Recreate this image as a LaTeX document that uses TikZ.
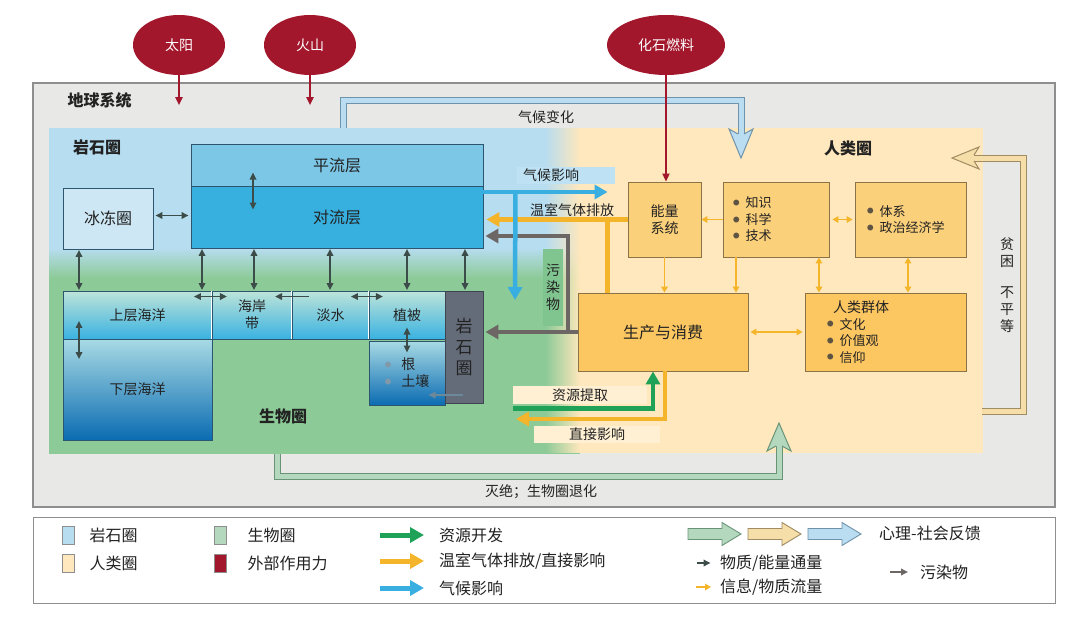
\documentclass[tikz,border=0pt]{standalone}
\usepackage{fontspec}
\setmainfont{Noto Sans CJK SC}
\usetikzlibrary{arrows.meta, shapes.geometric, positioning, fadings}

\definecolor{sysbg}    {HTML}{E8E8E6}
\definecolor{sysline}  {HTML}{8E8E8E}
\definecolor{atmoblue} {HTML}{B7DDF0}
\definecolor{biogreen} {HTML}{8CCA97}
\definecolor{humanyel} {HTML}{FFE8BD}
\definecolor{stratfill}{HTML}{7CC6E6}
\definecolor{tropofill}{HTML}{37B0DF}
\definecolor{cryofill} {HTML}{CDE7F4}
\definecolor{atmoline} {HTML}{2D5570}
\definecolor{seatop}   {HTML}{BDE4D9}
\definecolor{seabot}   {HTML}{3AB2E1}
\definecolor{deeptop}  {HTML}{A8DAE4}
\definecolor{deepbot}  {HTML}{0B6CB2}
\definecolor{rockfill} {HTML}{646C79}
\definecolor{rockline} {HTML}{3E4550}
\definecolor{hfill}    {HTML}{FBD07B}
\definecolor{hfill2}   {HTML}{FCC661}
\definecolor{hline}    {HTML}{8A7346}
\definecolor{fluxcol}  {HTML}{3C4C49}
\definecolor{infocol}  {HTML}{F4B52A}
\definecolor{climcol}  {HTML}{39AEE0}
\definecolor{rescol}   {HTML}{1FA257}
\definecolor{pollcol}  {HTML}{6C6664}
\definecolor{forcered} {HTML}{A3172D}
\definecolor{tagfill}  {HTML}{FFF0D4}
\definecolor{climtag}  {HTML}{BEE2F3}
\definecolor{pollgreen}{HTML}{80C48F}
\definecolor{ccline}   {HTML}{6F93AB}
\definecolor{ccfill}   {HTML}{BADDF1}
\definecolor{pvline}   {HTML}{A08B62}
\definecolor{pvfill}   {HTML}{F6DEA9}
\definecolor{exline}   {HTML}{6A9478}
\definecolor{exfill}   {HTML}{B3D8BE}
\definecolor{dotcol}   {HTML}{5E5444}
\definecolor{txt}      {HTML}{222222}

\newcommand{\dotb}[1][dotcol]{\textcolor{#1}{\raisebox{2.4pt}{\fontsize{6.5}{6.5}\selectfont ●}}\hspace{6pt}}

\tikzfading[name=fadeleft, left color=transparent!100, right color=transparent!0]

\tikzset{
  fbig/.style     = {font=\fontsize{16}{19}\selectfont},
  fmid/.style     = {font=\fontsize{14}{17}\selectfont},
  fsml/.style     = {font=\fontsize{13}{16.5}\selectfont},
  zone/.style     = {font=\fontsize{16}{19}\selectfont\bfseries, text=txt},
  force/.style    = {ellipse, fill=forcered, text=white, minimum height=60pt,
                     inner sep=0pt, fmid},
  forcearr/.style = {forcered, line width=1.8pt, -{Triangle[length=8pt,width=7pt]}},
  atmo/.style     = {draw=atmoline, line width=0.9pt, minimum width=292pt,
                     fbig, text=txt},
  sea/.style      = {draw=atmoline, line width=0.9pt, top color=seatop,
                     bottom color=seabot, fmid, text=txt, minimum height=48pt,
                     inner sep=0pt},
  deep/.style     = {top color=deeptop, bottom color=deepbot},
  rockbox/.style  = {draw=rockline, line width=0.9pt, fill=rockfill, text=txt,
                     minimum width=38pt, minimum height=112pt, inner sep=0pt,
                     align=center, font=\fontsize{17}{21}\selectfont},
  hbox/.style     = {draw=hline, line width=0.8pt, fill=hfill, text=txt, fsml,
                     minimum height=75pt, inner xsep=10pt},
  tag/.style      = {fmid, text=txt, inner sep=0pt, minimum height=18pt},
  flux/.style     = {fluxcol, line width=1.6pt, shorten <=0.5pt, shorten >=0.5pt,
                     >={Triangle[length=7pt,width=6.5pt]}},
  info/.style     = {infocol, line width=1.8pt, >={Triangle[length=6pt,width=6.5pt]}},
  heavy/.style    = {line width=4.5pt, -{Triangle[length=13pt,width=14pt]}},
  climarr/.style  = {heavy, climcol},
  ghgarr/.style   = {heavy, infocol},
  pollarr/.style  = {heavy, pollcol, line width=4pt},
  resarr/.style   = {heavy, rescol},
  ghgline/.style  = {infocol, line width=4.5pt},
  fbk/.style      = {line width=1pt, double distance=5pt, line join=miter},
  fbkhead/.style  = {line width=1pt, line join=miter},
  swatch/.style   = {draw=sysline, line width=0.6pt, minimum width=12pt,
                     minimum height=18pt, inner sep=0pt},
  legtxt/.style   = {fbig, text=txt, inner sep=2pt},
  legarr/.style   = {line width=5pt, -{Triangle[length=14pt,width=15pt]}},
}

\begin{document}
\begin{tikzpicture}[x=1pt, y=-1pt]

  \useasboundingbox (0,0) rectangle (1080,618);
  \fill[white] (0,0) rectangle (1080,618);

  % earth system frame and the three spheres
  \draw[sysline, fill=sysbg, line width=1.2pt] (33,83) rectangle (1055,507);
  \fill[atmoblue] (49,128) rectangle (580,248);
  \fill[top color=atmoblue, bottom color=biogreen] (49,248) rectangle (580,278);
  \fill[biogreen] (49,278) rectangle (580,454);
  \fill[humanyel, path fading=fadeleft] (545,128) rectangle (580,453);
  \fill[humanyel] (580,128) rectangle (983,453);

  \node[zone, anchor=west] (earth) at (64,100) {地球系统};
  \node[zone] (lithlab) at (97,147) {岩石圈};
  \node[zone] (biolab) at (283,416) {生物圈};
  \node[zone] (humlab) at (848,148) {人类圈};

  % external forcing
  \node[force, minimum width=92pt] (sun) at (179,45) {太阳};
  \node[force, minimum width=92pt] (volc) at (310,45) {火山};
  \node[force, minimum width=118pt] (fossil) at (666,45) {化石燃料};

  % feedback loops
  \coordinate (ccstart) at (343,128);
  \coordinate (cctip) at (741,158);
  \draw[fbk, draw=ccline, double=ccfill] (ccstart) |- ([yshift=57pt]cctip)
    -- ([yshift=24pt]cctip);
  \filldraw[fbkhead, draw=ccline, fill=ccfill] ([shift={(-3pt,24pt)}]cctip)
    -- ([shift={(-12pt,29pt)}]cctip) -- (cctip) -- ([shift={(12pt,29pt)}]cctip)
    -- ([shift={(3pt,24pt)}]cctip);
  \node[fmid, text=txt] (cclab) at (546,117) {气候变化};

  \coordinate (pvstart) at (982,411);
  \coordinate (pvtip) at (952,158);
  \draw[fbk, draw=pvline, double=pvfill] (pvstart) -| ([xshift=71pt]pvtip)
    -- ([xshift=22pt]pvtip);
  \filldraw[fbkhead, draw=pvline, fill=pvfill] ([shift={(22pt,3pt)}]pvtip)
    -- ([shift={(27pt,11pt)}]pvtip) -- (pvtip) -- ([shift={(27pt,-11pt)}]pvtip)
    -- ([shift={(22pt,-3pt)}]pvtip);
  \node[fmid, text=txt, align=center] (pvlab) at (1007,285)
    {贫\\困\\[14pt]不\\平\\等};

  \coordinate (exstart) at (277,454);
  \coordinate (extip) at (779,423);
  \draw[fbk, draw=exline, double=exfill] (exstart) |- ([yshift=-53pt]extip)
    -- ([yshift=-23pt]extip);
  \filldraw[fbkhead, draw=exline, fill=exfill] ([shift={(-3pt,-23pt)}]extip)
    -- ([shift={(-12pt,-28pt)}]extip) -- (extip) -- ([shift={(12pt,-28pt)}]extip)
    -- ([shift={(3pt,-23pt)}]extip);
  \node[fmid, text=txt] (exlab) at (541,492) {灭绝；生物圈退化};

  % atmosphere and cryosphere
  \node[atmo, fill=stratfill, minimum height=42pt] (strat) at (337,165) {平流层};
  \node[atmo, fill=tropofill, minimum height=62pt] (tropo) at (337,217) {对流层};
  \node[atmo, fill=cryofill, minimum width=90pt, minimum height=61pt] (cryo)
    at (108,218.5) {冰冻圈};

  % oceans, land, lithosphere
  \node[sea, minimum width=149pt] (upocean) at (137.5,315) {上层海洋};
  \node[sea, minimum width=80pt, align=center] (coast) at (252,315) {海岸\\带};
  \node[sea, minimum width=77pt] (fresh) at (330.5,315) {淡水};
  \node[sea, minimum width=76pt] (veg) at (407,315) {植被};
  \node[sea, deep, minimum width=149pt, minimum height=101pt] (lowocean)
    at (137.5,389.5) {下层海洋};
  \node[sea, deep, minimum width=76pt, minimum height=64pt, align=left] (soil)
    at (407,373) {\dotb[atmoline!60]\hspace{4pt}根\\ \dotb[atmoline!60]\hspace{4pt}土壤};
  \node[rockbox] (rock) at (464,347) {岩\\石\\圈};
  \foreach \cell in {coast, fresh, veg}
    \draw[white, line width=0.8pt] ([yshift=-0.5pt]\cell.north west)
      -- ([yshift=0.5pt]\cell.south west);

  % material and energy fluxes
  \draw[flux, <->] ([shift={(-84pt,-7pt)}]strat.center)
    -- ([shift={(-84pt,7pt)}]tropo.center);
  \draw[flux, <->, shorten <=2pt, shorten >=2pt] ([yshift=3pt]cryo.east)
    -- ([yshift=3pt]cryo.east -| tropo.west);
  \draw[flux, <->] ([xshift=-29pt]cryo.south) -- ([xshift=-29pt]cryo.south |- upocean.north);
  \foreach \dx in {-135,-83,-7,70,128}
    \draw[flux, <->] ([xshift=\dx pt]tropo.south)
      -- ([xshift=\dx pt]tropo.south |- upocean.north);
  \draw[flux, <->] ([shift={(-19pt,-6pt)}]upocean.north east)
    -- ([shift={(15pt,-6pt)}]upocean.north east);
  \draw[flux, ->] ([shift={(18pt,-6pt)}]fresh.north west)
    -- ([shift={(-17pt,-6pt)}]fresh.north west);
  \draw[flux, <->] ([shift={(-19pt,-6pt)}]fresh.north east)
    -- ([shift={(14pt,-6pt)}]fresh.north east);
  \draw[flux, <->] ([shift={(-58.5pt,19pt)}]upocean.south)
    -- ([shift={(-58.5pt,-21pt)}]lowocean.north);
  \draw[flux, <->] ([yshift=-12pt]veg.center) -- ([yshift=20pt]soil.center);
  \draw[flux, ->, atmoline!70, line width=1.2pt] ([shift={(-1pt,-48pt)}]rock.center)
    -- ([shift={(21pt,-22pt)}]soil.center);

  % anthroposphere
  \node[hbox, minimum width=73pt, text width=53pt, align=center, fmid] (energy)
    at (664.5,219.5) {能量\\系统};
  \node[hbox, text width=86pt, align=left] (know) at (776,219.5)
    {\dotb 知识\\ \dotb 科学\\ \dotb 技术};
  \node[hbox, inner xsep=12pt, text width=87pt, align=left] (inst) at (910.5,219.5)
    {\dotb 体系\\ \dotb 政治经济学};
  \node[hbox, fill=hfill2, minimum width=170pt, minimum height=78pt, fbig] (prod)
    at (663,332) {生产与消费};
  \node[hbox, fill=hfill2, minimum height=78pt, inner xsep=22pt, text width=117pt,
        align=left] (group) at (885.5,332)
    {\hspace*{6pt}{\fontsize{14}{17}\selectfont 人类群体}\\
     \dotb 文化\\ \dotb 价值观\\ \dotb 信仰};

  \draw[forcearr] (sun.south) -- ([yshift=-30pt]sun.south);
  \draw[forcearr] (volc.south) -- ([yshift=-30pt]volc.south);
  \draw[forcearr] (fossil.south) -- (fossil.south |- energy.north);

  % information and material flows
  \draw[info, ->] (know.west) -- (energy.east);
  \draw[info, <->, shorten <=3pt, shorten >=2pt] (know.east) -- (inst.west);
  \draw[info, ->] (energy.south) -- (energy.south |- prod.north);
  \draw[info, ->] ([xshift=-40pt]know.south) -- ([xshift=-40pt]know.south |- prod.north);
  \draw[info, <->] ([xshift=43pt]know.south) -- ([xshift=43pt]know.south |- group.north);
  \draw[info, <->] ([xshift=-2.5pt]inst.south) -- ([xshift=-2.5pt]inst.south |- group.north);
  \draw[info, <->, shorten <=2pt, shorten >=2pt] (prod.east) -- (group.west);

  % greenhouse gases, pollution, climate impacts
  \node[fmid, text=txt] (ghglab) at (572,210) {温室气体排放};
  \draw[ghgline] ([xshift=30pt]prod.north west) -- ([xshift=30pt]prod.north west |- energy.west);
  \draw[ghgarr, shorten >=3pt] (energy.west) -- (energy.west -| tropo.east);

  \node[fmid, text=txt, fill=pollgreen, minimum width=20pt, minimum height=77pt,
        inner sep=0pt, align=center] (polllab) at (553,287) {污\\染\\物};
  \draw[pollarr, shorten >=2pt] (prod.west) -- (prod.west -| rock.east);
  \draw[pollarr, shorten >=2pt] ([xshift=-10pt]prod.west) |- ([yshift=-19pt]tropo.east);

  \node[fmid, text=txt, fill=climtag, anchor=west, minimum height=17pt, inner sep=0pt,
        inner xsep=6pt, text width=86pt, align=left] (climlab) at (517,175) {气候影响};
  \coordinate (climtip) at (515,300);
  \draw[climarr] ([yshift=25pt]tropo.east) -- ([shift={(-20pt,27.5pt)}]energy.west);
  \draw[climarr] ([shift={(32pt,25pt)}]tropo.east) -- (climtip);

  % resources and direct impacts
  \node[tag, fill=tagfill, minimum width=134pt] (reslab) at (580,395) {资源提取};
  \node[tag, fill=tagfill, minimum width=126pt, minimum height=17pt] (dirlab)
    at (597,434.5) {直接影响};
  \coordinate (dirtip) at (516,419);
  \draw[resarr] ([yshift=-4.5pt]reslab.south west) -| ([xshift=-10pt]prod.south);
  \draw[ghgarr] ([xshift=2pt]prod.south) |- (dirtip);

  % legend
  \draw[sysline, fill=white, line width=1pt] (33,517) rectangle (1055,603);
  \node[swatch, fill=atmoblue] (swa) at (68,535) {};
  \node[legtxt, right=13pt of swa] (lswa) {岩石圈};
  \node[swatch, fill=humanyel] (swh) at (68,563) {};
  \node[legtxt, right=13pt of swh] (lswh) {人类圈};
  \node[swatch, fill=exfill] (swb) at (220,535) {};
  \node[legtxt, right=19pt of swb] (lswb) {生物圈};
  \node[swatch, fill=forcered] (swf) at (220,563) {};
  \node[legtxt, right=19pt of swf] (lswf) {外部作用力};

  \node[legtxt, anchor=west] (lres) at (437,535) {资源开发};
  \node[legtxt, anchor=west] (lghg) at (437,561) {温室气体排放/直接影响};
  \node[legtxt, anchor=west] (lclim) at (437,588) {气候影响};
  \draw[rescol, legarr] ([xshift=-57pt]lres.west) -- ([xshift=-13pt]lres.west);
  \draw[infocol, legarr] ([xshift=-57pt]lghg.west) -- ([xshift=-13pt]lghg.west);
  \draw[climcol, legarr] ([xshift=-57pt]lclim.west) -- ([xshift=-13pt]lclim.west);

  \node[legtxt, anchor=west] (lfb) at (877,533) {心理-社会反馈};
  \coordinate (lfbpos) at (688,534);
  \foreach \ln/\fl [count=\i from 0] in {exline/exfill, pvline/pvfill, ccline/ccfill}
    \filldraw[draw=\ln, fill=\fl, line width=0.9pt, line join=miter]
      ([shift={(\i*60pt,5.5pt)}]lfbpos) -- ++(34pt,0pt) -- ++(0pt,6pt)
      -- ++(19pt,-11.5pt) -- ++(-19pt,-11.5pt) -- ++(0pt,6pt) -- ++(-34pt,0pt) -- cycle;

  \node[legtxt, anchor=west] (lflux) at (718,563) {物质/能量通量};
  \node[legtxt, anchor=west] (linfo) at (718,587) {信息/物质流量};
  \node[legtxt, anchor=west] (lpoll) at (918,572) {污染物};
  \draw[flux, ->, line width=2pt] ([xshift=-22pt]lflux.west) -- ([xshift=-7pt]lflux.west);
  \draw[info, ->, line width=2pt] ([xshift=-22pt]linfo.west) -- ([xshift=-7pt]linfo.west);
  \draw[pollcol, line width=2pt, -{Triangle[length=7pt,width=6.5pt]}]
    ([xshift=-28pt]lpoll.west) -- ([xshift=-10pt]lpoll.west);

\end{tikzpicture}
\end{document}
